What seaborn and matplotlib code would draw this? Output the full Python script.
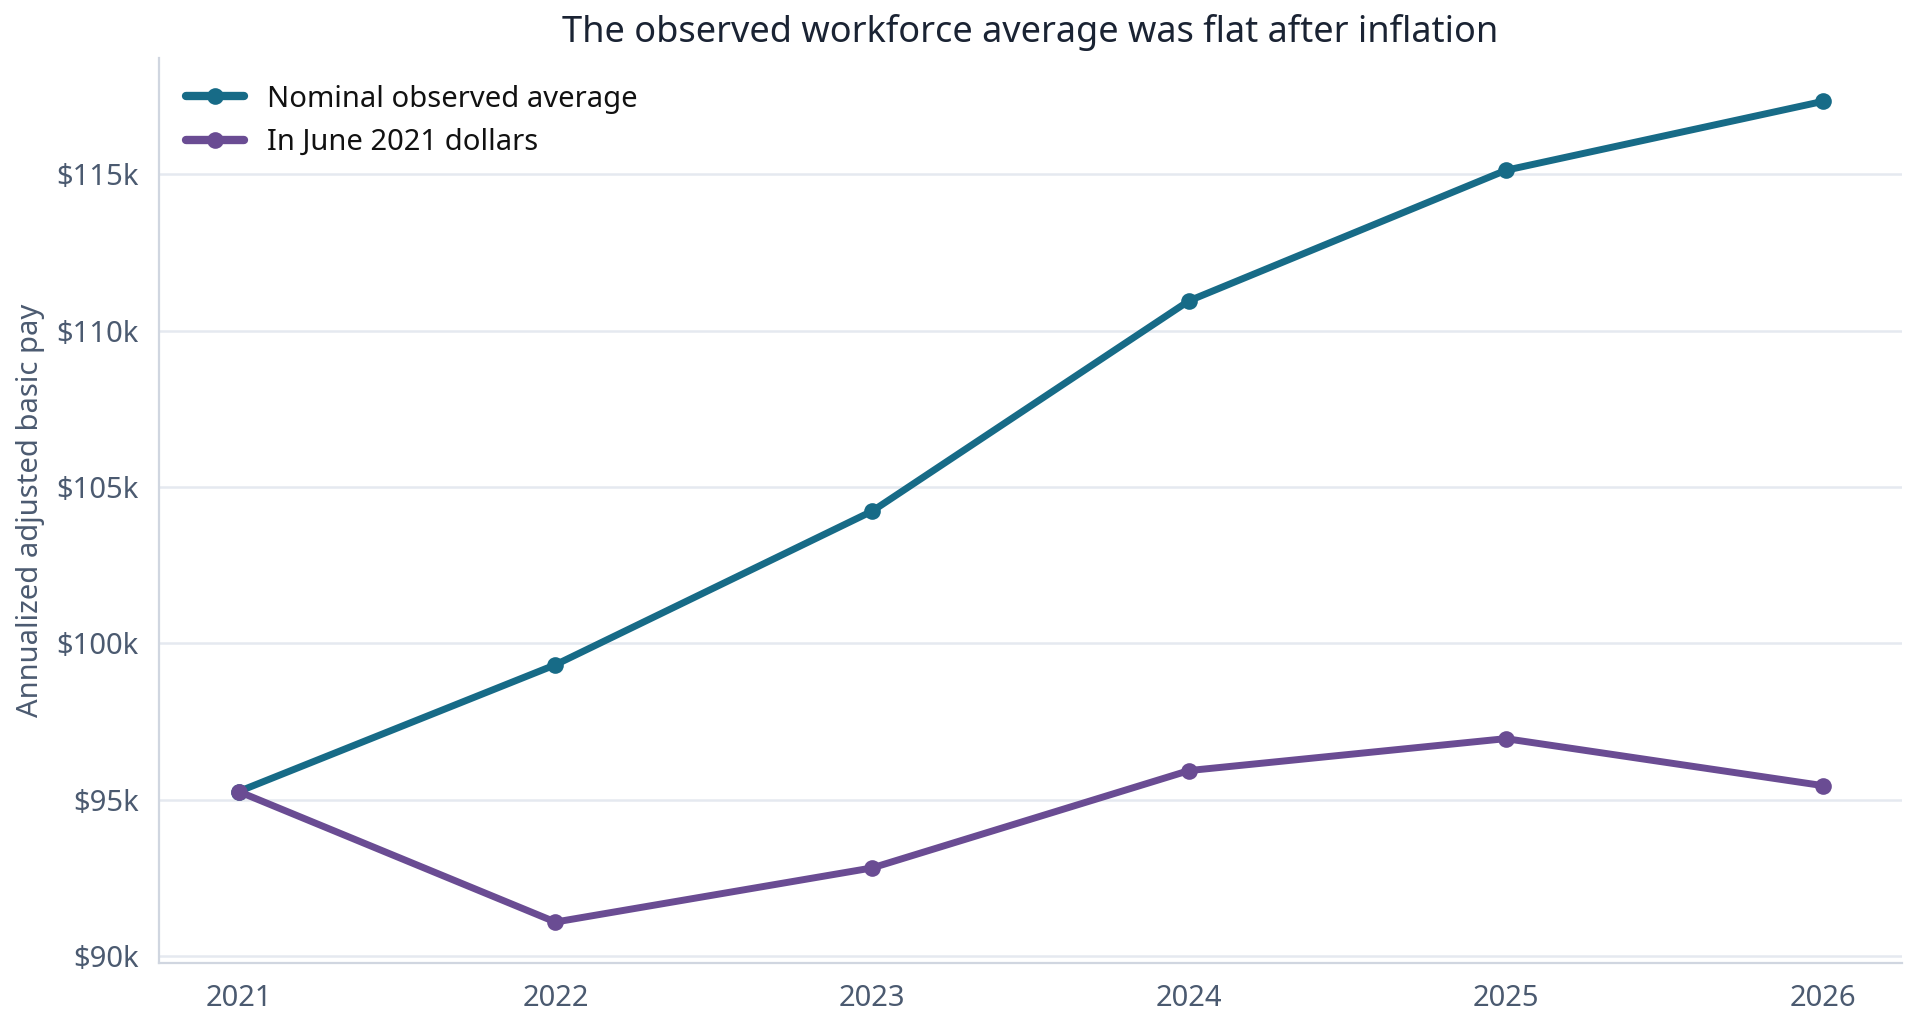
import matplotlib
matplotlib.use("Agg")
import matplotlib.pyplot as plt
import seaborn as sns
import pandas as pd

years = [2021, 2022, 2023, 2024, 2025, 2026]
nominal = [95.27, 99.32, 104.23, 110.95, 115.12, 117.32]
real = [95.27, 91.10, 92.83, 95.94, 96.96, 95.46]
series_names = ["Nominal observed average", "In June 2021 dollars"]
colors = ["#176b87", "#6a4c93"]

df = pd.DataFrame({
    "year": years * 2,
    "value": nominal + real,
    "series": [series_names[0]] * 6 + [series_names[1]] * 6,
})

sns.set_theme(style="white")
plt.rcParams['font.family'] = ['Noto Sans', 'DejaVu Sans']
fig, ax = plt.subplots(figsize=(9.605, 5.11), dpi=200)
sns.lineplot(data=df, x="year", y="value", hue="series", palette=colors,
             marker="o", markersize=6, markeredgewidth=0, linewidth=2.5, ax=ax)

ax.set_ylim(89.8, 118.7)
ax.set_xlim(2020.75, 2026.25)
ax.set_yticks([90, 95, 100, 105, 110, 115])
ax.set_yticklabels(["$90k", "$95k", "$100k", "$105k", "$110k", "$115k"])
ax.set_xticks(years)
ax.set_xticklabels([str(y) for y in years])
ax.yaxis.grid(True, color="#e5e9f0", linewidth=0.9)
ax.set_axisbelow(True)
for s in ["top", "right"]:
    ax.spines[s].set_visible(False)
for s in ["left", "bottom"]:
    ax.spines[s].set_color("#d0d6e0")
    ax.spines[s].set_linewidth(0.8)
ax.tick_params(axis="both", colors="#4b5a70", labelsize=10.5, length=4, color="#4b5a70")
ax.set_xlabel("")
ax.set_ylabel("Annualized adjusted basic pay", color="#4b5a70", fontsize=10.5)
ax.set_title("The observed workforce average was flat after inflation",
             color="#1a2333", fontsize=13)
leg = ax.legend(loc="upper left", frameon=False, fontsize=10.5, title=None)
for t in leg.get_texts():
    t.set_color("#111111")
for line in leg.get_lines():
    line.set_linewidth(3)
fig.subplots_adjust(left=0.083, right=0.99, top=0.943, bottom=0.058)
fig.savefig("out.png", dpi=200)
